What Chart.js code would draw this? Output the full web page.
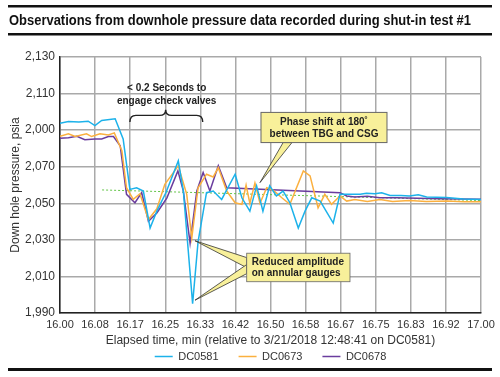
<!DOCTYPE html>
<html>
<head>
<meta charset="utf-8">
<script src="https://cdn.jsdelivr.net/npm/chart.js@4.4.1/dist/chart.umd.min.js"></script>
<style>
  html, body { margin: 0; padding: 0; background: #fff; }
  #wrap { width: 500px; height: 377px; }
</style>
</head>
<body>
<div id="wrap"><canvas id="pressureChart" width="500" height="377"></canvas></div>
<script>
// axis labels, as printed on the original
const yTickLabels = ['1,990', '2,010', '2,030', '2,050', '2,070', '2,000', '2,110', '2,130'];
const xTickLabels = ['16.00', '16.08', '16.17', '16.25', '16.33', '16.42', '16.50',
  '16.58', '16.67', '16.75', '16.83', '16.92', '17.00'];

// DC0581 (tubing gauge)
const dc0581Time = [16.000, 16.020, 16.045, 16.067, 16.083, 16.099, 16.131, 16.150, 16.166, 16.182,
  16.198, 16.214, 16.230, 16.252, 16.281, 16.293, 16.315, 16.328, 16.348, 16.364,
  16.384, 16.416, 16.432, 16.451, 16.467, 16.482, 16.498, 16.514, 16.530, 16.546,
  16.566, 16.582, 16.598, 16.618, 16.649, 16.665, 16.689, 16.713, 16.728, 16.748,
  16.764, 16.784, 16.810, 16.830, 16.851, 16.871, 16.918, 16.958, 17.000];
const dc0581Psi = [2093.8, 2094.7, 2094.5, 2094.9, 2092.5, 2095.3, 2096.2, 2085.2, 2057.6, 2058.5,
  2056.7, 2036.5, 2045.7, 2056.0, 2073.2, 2056.7, 1995.1, 2029.1, 2055.8, 2056.7,
  2052.1, 2065.9, 2053.0, 2045.7, 2059.5, 2045.7, 2059.5, 2054.0, 2056.7, 2050.3,
  2036.5, 2045.7, 2053.0, 2051.2, 2039.2, 2054.9, 2055.0, 2055.0, 2055.5, 2055.2,
  2055.8, 2054.3, 2054.3, 2054.0, 2054.6, 2053.5, 2053.1, 2052.3, 2052.1];

// DC0673 (annular gauge)
const dc0673Time = [16.000, 16.020, 16.036, 16.063, 16.075, 16.095, 16.115, 16.129, 16.147, 16.158,
  16.174, 16.190, 16.210, 16.230, 16.249, 16.281, 16.301, 16.313, 16.328, 16.348,
  16.364, 16.376, 16.396, 16.416, 16.432, 16.442, 16.451, 16.463, 16.475, 16.491,
  16.507, 16.527, 16.546, 16.578, 16.594, 16.613, 16.629, 16.645, 16.665, 16.681,
  16.700, 16.730, 16.760, 16.790, 16.830, 16.870, 16.920, 16.960, 17.000];
const dc0673Psi = [2086.6, 2088.0, 2086.5, 2088.0, 2086.5, 2088.0, 2087.4, 2088.5, 2078.8, 2058.5,
  2052.1, 2055.2, 2041.1, 2047.0, 2060.4, 2070.5, 2054.9, 2031.0, 2058.5, 2065.9,
  2064.4, 2069.5, 2056.7, 2050.3, 2049.4, 2060.0, 2050.0, 2061.0, 2050.0, 2058.5,
  2057.0, 2053.0, 2049.4, 2067.7, 2065.0, 2047.5, 2054.9, 2049.4, 2054.0, 2051.2,
  2052.0, 2051.0, 2052.0, 2051.0, 2051.5, 2051.0, 2051.2, 2050.8, 2050.8];

// DC0678 (annular gauge)
const dc0678Time = [16.000, 16.020, 16.040, 16.059, 16.083, 16.099, 16.115, 16.127, 16.143, 16.158,
  16.178, 16.194, 16.210, 16.230, 16.254, 16.280, 16.293, 16.309, 16.325, 16.340,
  16.356, 16.376, 16.396, 16.665, 16.681, 16.700, 16.730, 16.760, 16.800, 16.850,
  16.900, 16.950, 17.000];
const dc0678Psi = [2085.5, 2085.8, 2086.6, 2084.8, 2085.2, 2085.2, 2086.5, 2086.5, 2081.5, 2054.9,
  2050.3, 2055.8, 2040.2, 2044.7, 2053.0, 2067.7, 2056.7, 2028.2, 2056.7, 2066.8,
  2056.7, 2070.5, 2058.5, 2055.8, 2054.0, 2053.5, 2053.8, 2053.0, 2053.0, 2052.8,
  2052.5, 2052.3, 2052.2];

// dotted trend line
const trendTime = [16.10, 17.00];
const trendPsi = [2057.3, 2051.5];

const pairUp = (ts, vs) => ts.map((t, i) => ({ x: t, y: vs[i] }));

const notes = {
  title: 'Observations from downhole pressure data recorded during shut-in test #1',
  braceText: ['< 0.2 Seconds to', 'engage check valves'],
  phaseText: ['Phase shift at 180˚', 'between TBG and CSG'],
  ampText: ['Reduced amplitude', 'on annular gauges']
};

// black rules and the condensed bold heading
const frame = {
  id: 'frame',
  afterDraw(chart) {
    const ctx = chart.ctx;
    ctx.save();
    ctx.fillStyle = '#111';
    ctx.fillRect(8, 5, 484, 2.5);
    ctx.fillRect(8, 33, 484, 2.5);
    ctx.fillRect(8, 368, 484, 3);
    ctx.font = 'bold 14px "Liberation Sans", Arial, sans-serif';
    ctx.textBaseline = 'alphabetic';
    const w = ctx.measureText(notes.title).width;
    ctx.translate(9, 25);
    ctx.scale(462 / w, 1); // squeeze to a narrow face
    ctx.fillText(notes.title, 0, 0);
    ctx.restore();
  }
};

// move legend row up under the axis title
const legendNudge = {
  id: 'legendNudge',
  afterLayout(chart) {
    const lg = chart.legend;
    if (lg) { lg.top -= 17; lg.bottom -= 17; }
  }
};

function wedge(ctx, b1, b2, tip) {
  ctx.beginPath();
  ctx.moveTo(b1[0], b1[1]);
  ctx.lineTo(tip[0], tip[1]);
  ctx.lineTo(b2[0], b2[1]);
  ctx.closePath();
  ctx.fillStyle = '#f8f09a';
  ctx.fill();
  ctx.strokeStyle = '#333';
  ctx.lineWidth = 0.8;
  ctx.stroke();
}

const callouts = {
  id: 'callouts',
  afterDatasetsDraw(chart) {
    const ctx = chart.ctx;
    const xs = chart.scales.x, ys = chart.scales.y;
    const px = v => xs.getPixelForValue(v);
    const py = v => ys.getPixelForValue(v);
    ctx.save();

    // brace
    const x1 = px(16.166), x2 = px(16.339), xm = px(16.251);
    const yEnd = py(2094.4), yMid = py(2098.1), yTip = py(2101.2);
    ctx.strokeStyle = '#222';
    ctx.lineWidth = 1.4;
    ctx.beginPath();
    ctx.moveTo(x1, yEnd);
    ctx.quadraticCurveTo(x1, yMid, x1 + 6, yMid);
    ctx.lineTo(xm - 6, yMid);
    ctx.quadraticCurveTo(xm, yMid, xm, yTip);
    ctx.quadraticCurveTo(xm, yMid, xm + 6, yMid);
    ctx.lineTo(x2 - 6, yMid);
    ctx.quadraticCurveTo(x2, yMid, x2, yEnd);
    ctx.stroke();

    ctx.font = 'bold 10px "Liberation Sans", Arial, sans-serif';
    ctx.fillStyle = '#222';
    ctx.textAlign = 'center';
    ctx.textBaseline = 'middle';
    ctx.fillText(notes.braceText[0], px(16.2534), py(2112.8));
    ctx.fillText(notes.braceText[1], px(16.2534), py(2105.9));

    // phase shift box
    wedge(ctx, [px(16.530), py(2083.2)], [px(16.551), py(2083.2)], [px(16.475), py(2061.3)]);
    let bx = px(16.4774), by = py(2099.7), bw = px(16.7767) - bx, bh = py(2083.2) - by;
    ctx.fillStyle = '#f8f09a';
    ctx.fillRect(bx, by, bw, bh);
    ctx.strokeStyle = '#666';
    ctx.lineWidth = 1;
    ctx.strokeRect(bx, by, bw, bh);
    ctx.fillStyle = '#222';
    ctx.fillText(notes.phaseText[0], bx + bw / 2, by + 10);
    ctx.fillText(notes.phaseText[1], bx + bw / 2, by + 21.5);

    // reduced amplitude box
    wedge(ctx, [px(16.4435), py(2020.3)], [px(16.4435), py(2014.8)], [px(16.3207), py(2029.5)]);
    wedge(ctx, [px(16.4435), py(2016.5)], [px(16.4435), py(2011.5)], [px(16.3207), py(1997.0)]);
    bx = px(16.4435); by = py(2022.7); bw = px(16.6888) - bx; bh = py(2007.1) - by;
    ctx.fillStyle = '#f8f09a';
    ctx.fillRect(bx, by, bw, bh);
    ctx.strokeStyle = '#666';
    ctx.strokeRect(bx, by, bw, bh);
    ctx.fillStyle = '#222';
    ctx.textAlign = 'left';
    ctx.fillText(notes.ampText[0], bx + 5, by + 9);
    ctx.fillText(notes.ampText[1], bx + 5, by + 20.5);

    ctx.restore();
  }
};

const ctx = document.getElementById('pressureChart').getContext('2d');

new Chart(ctx, {
  type: 'line',
  data: {
    datasets: [
      {
        label: 'DC0581',
        data: pairUp(dc0581Time, dc0581Psi),
        borderColor: '#1cb2ea',
        backgroundColor: '#1cb2ea',
        borderWidth: 1.5,
        pointRadius: 0,
        tension: 0
      },
      {
        label: 'DC0673',
        data: pairUp(dc0673Time, dc0673Psi),
        borderColor: '#fbb03f',
        backgroundColor: '#fbb03f',
        borderWidth: 1.5,
        pointRadius: 0,
        tension: 0
      },
      {
        label: 'DC0678',
        data: pairUp(dc0678Time, dc0678Psi),
        borderColor: '#6a3d9e',
        backgroundColor: '#6a3d9e',
        borderWidth: 1.5,
        pointRadius: 0,
        tension: 0
      },
      {
        label: 'trend',
        data: pairUp(trendTime, trendPsi),
        borderColor: '#63c447',
        borderWidth: 1,
        borderDash: [2, 2],
        pointRadius: 0
      }
    ]
  },
  options: {
    responsive: false,
    animation: false,
    layout: { padding: { left: 8, right: 19, top: 57, bottom: -12 } },
    plugins: {
      legend: {
        position: 'bottom',
        fullSize: false,
        labels: {
          filter: item => item.text !== 'trend',
          usePointStyle: true,
          pointStyle: 'line',
          pointStyleWidth: 18,
          boxHeight: 8,
          padding: 20,
          color: '#333',
          font: { family: '"Liberation Sans", Arial, sans-serif', size: 11 }
        }
      },
      tooltip: { enabled: false }
    },
    scales: {
      x: {
        type: 'linear',
        min: 16,
        max: 17,
        afterBuildTicks: scale => {
          scale.ticks = xTickLabels.map((l, i) => ({ value: 16 + i / 12 }));
        },
        afterFit: scale => { scale.height = 35; },
        ticks: {
          autoSkip: false,
          maxRotation: 0,
          padding: 5,
          color: '#333',
          font: { family: '"Liberation Sans", Arial, sans-serif', size: 11 },
          callback: (v, i) => xTickLabels[i]
        },
        grid: { color: '#a9a9a9', lineWidth: 1.5, drawTicks: false },
        border: { color: '#222', width: 1.5 },
        title: {
          display: true,
          text: 'Elapsed time, min (relative to 3/21/2018 12:48:41 on DC0581)',
          color: '#333',
          padding: { top: 2, bottom: 0 },
          font: { family: '"Liberation Sans", Arial, sans-serif', size: 12 }
        }
      },
      y: {
        min: 1990,
        max: 2130,
        afterBuildTicks: scale => {
          scale.ticks = yTickLabels.map((l, i) => ({ value: 1990 + i * 20 }));
        },
        afterFit: scale => { scale.width = 52; },
        ticks: {
          padding: 5,
          color: '#333',
          font: { family: '"Liberation Sans", Arial, sans-serif', size: 12 },
          callback: (v, i) => yTickLabels[i]
        },
        grid: { color: '#a9a9a9', lineWidth: 1.5, drawTicks: false },
        border: { color: '#222', width: 1.5 },
        title: {
          display: true,
          text: 'Down hole pressure, psia',
          color: '#333',
          padding: { top: 0, bottom: 0 },
          font: { family: '"Liberation Sans", Arial, sans-serif', size: 12 }
        }
      }
    }
  },
  plugins: [frame, legendNudge, callouts]
});
</script>
</body>
</html>
